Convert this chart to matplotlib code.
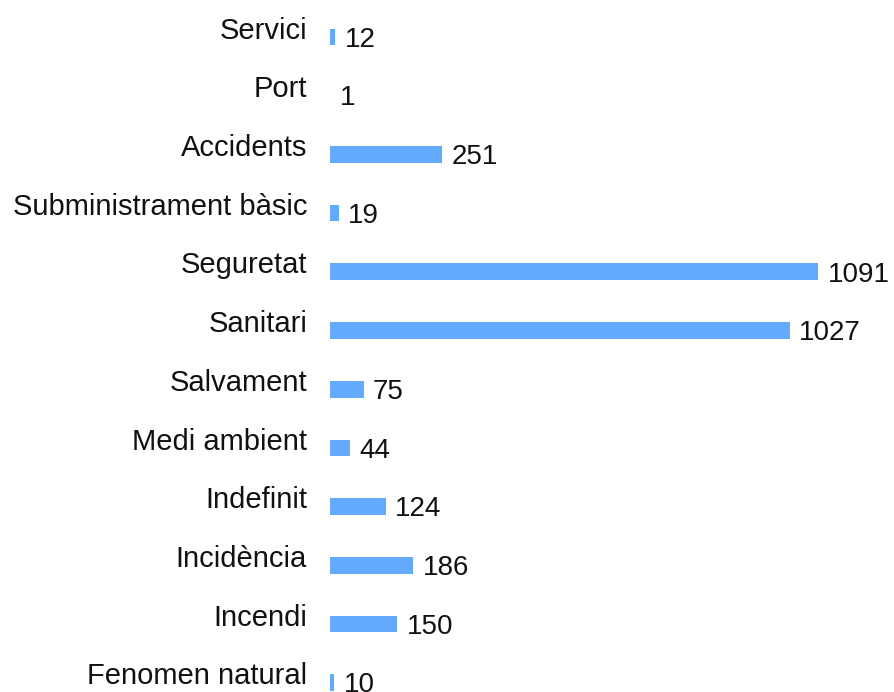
import matplotlib
matplotlib.use("Agg")
from matplotlib import pyplot as plt

# categories top to bottom and their counts
categories = ["Servici", "Port", "Accidents", "Subministrament bàsic", "Seguretat",
              "Sanitari", "Salvament", "Medi ambient", "Indefinit", "Incidència",
              "Incendi", "Fenomen natural"]
values = [12, 1, 251, 19, 1091, 1027, 75, 44, 124, 186, 150, 10]

plt.rcParams['font.family'] = ['Liberation Sans', 'DejaVu Sans']

fig = plt.figure(figsize=(8.94, 6.92), dpi=100)
ax = fig.add_axes([330 / 894, 0, 1 - 330 / 894, 1])

ypos = list(range(len(categories)))
ax.barh(ypos, values, height=0.285, color="#63A9FC")

# value labels right of each bar, category labels above-left
for y, v, name in zip(ypos, values, categories):
    ax.annotate(str(v), xy=(v, y), xytext=(6.8, -7.0), textcoords="offset points",
                ha="left", va="baseline", fontsize=20, color="#111111")
    ax.annotate(name, xy=(0, y), xytext=(-16.5, -1.2), textcoords="offset points",
                ha="right", va="baseline", fontsize=21, color="#111111",
                annotation_clip=False)

# row 0 centre at 37 px from top, 58.7 px per row
ax.set_xlim(0, 564 / 0.4477)
ax.set_ylim((692 - 37) / 58.7, -37 / 58.7)
ax.axis("off")

fig.savefig("out.png", dpi=100)
